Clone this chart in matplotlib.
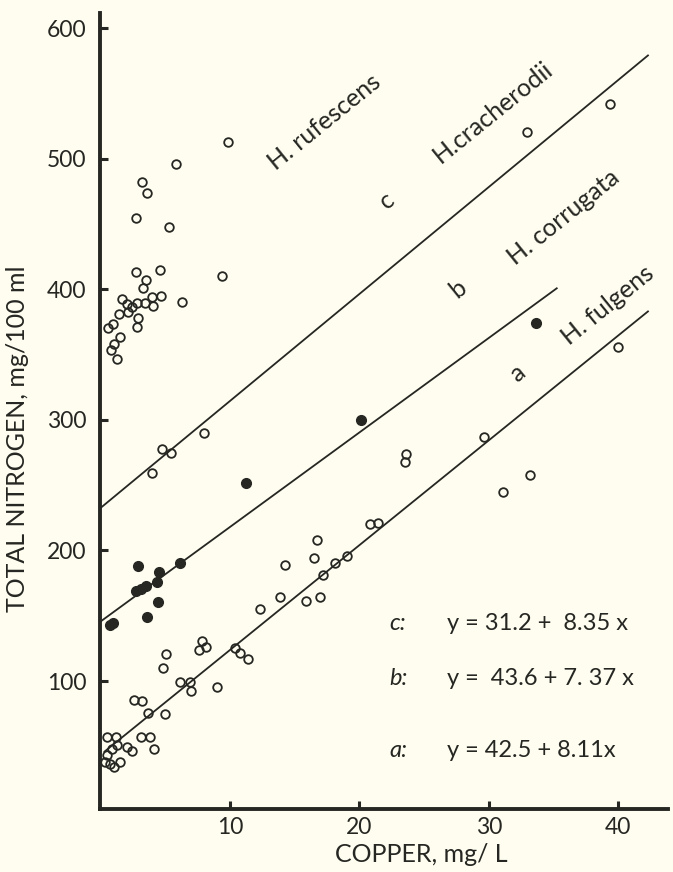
import matplotlib
matplotlib.use("Agg")
import matplotlib.pyplot as plt

# copper (mg/L) vs total nitrogen (mg/100 ml)
rufescens_x = [5.80, 3.17, 3.61, 2.76, 5.29, 9.36, 2.71, 4.59, 3.51, 3.25, 1.63, 2.02, 2.79, 3.43, 3.95,
               4.64, 4.07, 6.27, 2.14, 1.45, 2.45, 2.87, 2.79, 0.98, 0.55, 1.50, 1.04, 0.78, 1.27, 9.87]
rufescens_y = [495.6, 482.3, 473.4, 454.8, 447.4, 410.1, 413.2, 414.7, 407.0, 400.7, 392.5, 388.7, 389.2, 389.2, 394.3,
               395.0, 387.1, 390.0, 382.3, 381.0, 386.6, 377.7, 371.3, 373.4, 370.1, 363.6, 357.8, 353.4, 346.8, 512.9]

cracherodii_x = [3.95, 4.77, 5.46, 7.99, 32.93, 39.37]
cracherodii_y = [259.5, 277.6, 274.3, 290.1, 520.1, 541.6]

corrugata_x = [0.73, 0.98, 2.92, 4.51, 2.71, 3.12, 3.48, 4.33, 4.46, 3.61, 6.14, 11.24, 20.1, 33.65]
corrugata_y = [142.9, 144.6, 188.3, 183.7, 169.1, 170.2, 173.0, 175.8, 160.7, 148.8, 190.1, 251.4, 299.8, 374.4]

fulgens_x = [5.03, 4.85, 7.63, 8.15, 7.81, 10.39, 10.77, 11.37, 6.14, 6.91, 6.99, 8.97, 2.60, 3.18, 3.69, 4.98,
             3.12, 3.82, 4.13, 2.06, 2.45, 0.47, 1.19, 1.24, 0.86, 0.47, 0.34, 0.73, 1.06, 1.50,
             12.32, 13.86, 14.25, 15.87, 16.96, 16.49, 16.75, 17.16, 18.11, 19.02,
             20.8, 21.4, 23.6, 23.5, 29.6, 31.1, 33.2, 40.0]
fulgens_y = [120.7, 109.7, 123.7, 125.8, 130.9, 125.0, 121.2, 116.6, 99.5, 99.5, 92.6, 95.6, 85.5, 84.9, 75.3, 74.7,
             57.4, 57.4, 47.7, 49.2, 46.4, 56.9, 57.4, 50.8, 47.7, 43.3, 38.2, 36.4, 34.2, 38.2,
             154.9, 164.1, 188.6, 161.0, 164.1, 194.4, 208.0, 181.2, 190.6, 196.0,
             220.0, 221.0, 274.0, 268.0, 287.0, 245.0, 258.0, 356.0]

# fitted lines as drawn (end points)
line_a_x = [0.3, 42.3]
line_a_y = [46.0, 383.0]
line_b_x = [0.05, 35.25]
line_b_y = [146.0, 400.7]
line_c_x = [0.05, 42.3]
line_c_y = [233.0, 579.0]

eq_names = ["c:", "b:", "a:"]
eq_texts = ["y = 31.2 +  8.35 x", "y =  43.6 + 7. 37 x", "y = 42.5 + 8.11x"]

yticks = [100, 200, 300, 400, 500, 600]
xticks = [10, 20, 30, 40]

bg = "#fefdf0"
ink = "#262622"
plt.rcParams['font.family'] = ['Lato', 'DejaVu Sans']

fig = plt.figure(figsize=(6.73, 8.72), dpi=100, facecolor=bg)
ax = fig.add_axes([0.1486, 0.0722, 0.8440, 0.9132], facecolor=bg)

ax.plot(line_a_x, line_a_y, color=ink, lw=1.3)
ax.plot(line_b_x, line_b_y, color=ink, lw=1.3)
ax.plot(line_c_x, line_c_y, color=ink, lw=1.3)

open_kw = dict(ls="none", marker="o", ms=6.2, mfc="none", mec=ink, mew=1.3)
ax.plot(rufescens_x, rufescens_y, **open_kw)
ax.plot(cracherodii_x, cracherodii_y, **open_kw)
ax.plot(fulgens_x, fulgens_y, **open_kw)
ax.plot(corrugata_x, corrugata_y, ls="none", marker="o", ms=7, mfc=ink, mec=ink)

ax.set_xlim(-0.05, 43.85)
ax.set_ylim(2, 611.7)
ax.set_xticks(xticks)
ax.set_yticks(yticks)
ax.set_xticklabels([str(t) for t in xticks])
ax.set_yticklabels([str(t) for t in yticks])

for s in ["top", "right"]:
    ax.spines[s].set_visible(False)
for s in ["left", "bottom"]:
    ax.spines[s].set_linewidth(2.8)
    ax.spines[s].set_color(ink)
ax.tick_params(direction="in", length=6, width=2.2, colors=ink, labelsize=16.5)
ax.tick_params(axis="y", pad=10)
ax.tick_params(axis="x", pad=6)

ax.set_ylabel("TOTAL NITROGEN, mg/100 ml", fontsize=18, color=ink)
ax.yaxis.set_label_coords(-0.125, 0.465)
ax.set_xlabel("COPPER, mg/ L", fontsize=18, color=ink)
ax.xaxis.set_label_coords(0.566, -0.043)

# species labels along the lines
lab = dict(fontsize=18, color=ink, rotation=39, rotation_mode="anchor",
           ha="center", va="center")
ax.text(17.34, 528.3, "H. rufescens", **lab)
ax.text(30.3, 535.9, "H.cracherodii", **lab)
ax.text(35.76, 454.9, "H. corrugata", **lab)
ax.text(39.2, 387.9, "H. fulgens", **lab)
ax.text(22.1, 468.3, "c", **lab)
ax.text(27.6, 400.7, "b", **lab)
ax.text(32.2, 335.6, "a", **lab)

eq_y = [144.2, 102.3, 47.2]
for name, txt, yy in zip(eq_names, eq_texts, eq_y):
    ax.text(22.3, yy, name, fontsize=17, style="italic", color=ink, va="center")
    ax.text(26.75, yy, txt, fontsize=17, color=ink, va="center")

fig.savefig("out.png", dpi=100, facecolor=bg)
